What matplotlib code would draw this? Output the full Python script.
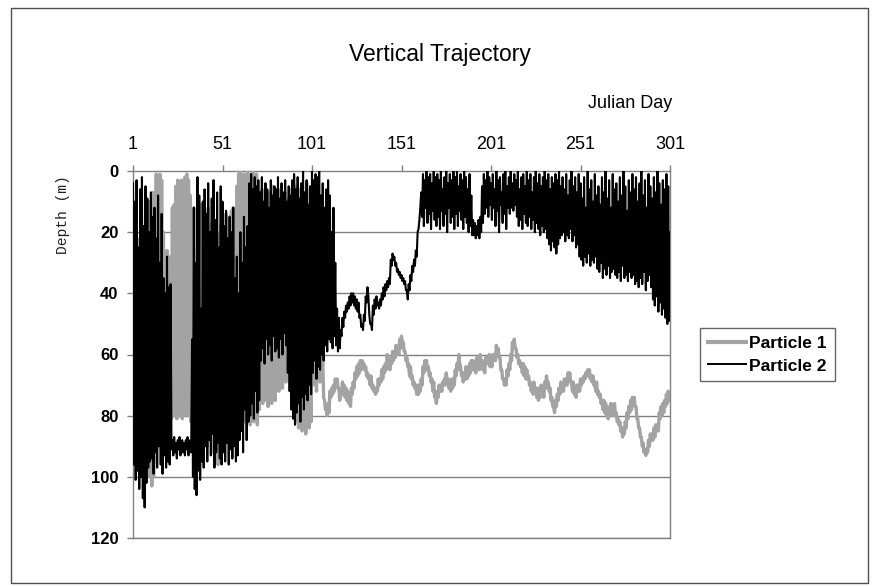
import numpy as np
import matplotlib
matplotlib.use("Agg")
import matplotlib.pyplot as plt
from matplotlib.patches import Rectangle
from matplotlib.lines import Line2D

plt.rcParams["font.family"] = ["Liberation Sans", "DejaVu Sans"]

# Depth (m) of each particle, sampled every half day from day 1 to day 301
particle1_depth = (
    [35, 88, 25, 92, 40, 85, 30, 94, 22, 90, 45, 93, 28, 87, 18, 95, 15, 98, 10, 100]
    + [10, 103, 7, 100, 13, 95, 1, 90, 2, 88, 1, 85, 3, 86, 20, 84, 28, 82, 26, 81]
    + [29, 80, 28, 81, 12, 79, 11, 80, 5, 81, 3, 80, 4, 79, 3, 81, 5, 80, 2, 79]
    + [1, 80, 3, 78, 8, 82, 15, 84, 12, 79, 18, 83, 14, 80, 20, 85, 11, 78, 16, 82]
    + [14, 86, 20, 90, 12, 84, 25, 88, 17, 92, 22, 85, 26, 94, 24, 96, 21, 90, 18, 88]
    + [16, 85, 19, 88, 14, 82, 18, 86, 15, 84, 13, 87, 12, 83, 14, 85, 5, 80, 1, 82]
    + [0, 80, 2, 78, 1, 82, 3, 79, 0, 81, 2, 83, 1, 80, 0, 82, 3, 79, 1, 83]
    + [8, 78, 12, 74, 6, 76, 10, 73, 9, 75, 14, 77, 7, 74, 11, 76, 5, 72, 9, 75]
    + [10, 70, 6, 72, 12, 68, 8, 71, 11, 65, 7, 69, 13, 63, 9, 67, 6, 70, 10, 72]
    + [8, 78, 5, 82, 10, 84, 6, 80, 12, 85, 7, 83, 9, 86, 4, 81, 10, 84, 6, 82]
    + [7, 70, 9, 68, 8, 72, 10, 66, 12, 69, 61, 67, 62, 74, 75, 78, 77, 80, 76, 79]
    + [72, 74, 71, 73, 70, 72, 68, 70, 68, 71, 71, 75, 72, 73, 69, 73, 70, 74, 71, 75]
    + [72, 76, 75, 77, 71, 73, 69, 71, 66, 68, 64, 67, 63, 66, 62, 65, 62, 64, 63, 65]
    + [64, 67, 66, 68, 67, 70, 67, 71, 70, 72, 71, 73, 71, 72, 68, 70, 68, 69, 65, 68]
    + [64, 66, 63, 65, 60, 63, 62, 65, 61, 63, 59, 62, 59, 61, 57, 60, 58, 60, 55, 58]
    + [54, 57, 56, 59, 59, 62, 61, 64, 63, 67, 64, 68, 67, 70, 69, 71, 70, 73, 70, 73]
    + [70, 72, 68, 70, 64, 66, 62, 65, 62, 65, 64, 67, 66, 69, 68, 72, 69, 74, 74, 76]
    + [72, 74, 70, 72, 70, 72, 69, 70, 68, 70, 66, 69, 68, 71, 70, 72, 68, 71, 68, 70]
    + [65, 67, 63, 65, 60, 63, 64, 67, 66, 69, 66, 68, 64, 68, 65, 67, 63, 66, 62, 65]
    + [62, 65, 64, 66, 61, 64, 63, 65, 60, 63, 62, 65, 64, 66, 61, 63, 61, 63, 60, 64]
    + [62, 64, 60, 62, 60, 62, 57, 59, 58, 61, 61, 65, 65, 68, 68, 70, 68, 70, 65, 67]
    + [63, 65, 60, 62, 56, 58, 55, 58, 58, 61, 60, 63, 62, 64, 63, 66, 63, 67, 64, 68]
    + [65, 68, 67, 70, 69, 72, 71, 73, 69, 72, 71, 74, 71, 75, 72, 74, 70, 73, 72, 74]
    + [69, 71, 67, 70, 69, 72, 71, 75, 74, 77, 77, 79, 75, 77, 73, 75, 71, 73, 69, 72]
    + [70, 72, 68, 70, 68, 70, 66, 68, 66, 69, 69, 72, 69, 73, 72, 74, 70, 72, 70, 72]
    + [68, 70, 68, 69, 67, 68, 66, 67, 65, 67, 65, 68, 67, 69, 67, 70, 69, 72, 69, 73]
    + [72, 74, 73, 76, 75, 78, 75, 79, 76, 80, 77, 81, 78, 80, 76, 79, 78, 80, 76, 80]
    + [79, 82, 81, 83, 82, 85, 84, 87, 84, 86, 82, 84, 79, 81, 77, 79, 75, 78, 74, 76]
    + [74, 77, 77, 81, 81, 84, 84, 87, 87, 90, 89, 92, 91, 93, 91, 92, 88, 90, 86, 88]
    + [86, 88, 84, 87, 83, 85, 83, 85, 79, 81, 77, 80, 76, 79, 75, 77, 73, 76, 72, 75]
    + [73]
)

particle2_depth = (
    [4, 96, 10, 101, 3, 98, 25, 104, 6, 100, 2, 107, 18, 110, 5, 102, 9, 97, 20, 95]
    + [7, 94, 15, 99, 12, 92, 22, 97, 8, 90, 30, 96, 14, 99, 35, 93, 40, 97, 28, 95]
    + [38, 96, 37, 91, 88, 93, 87, 92, 89, 94, 88, 91, 87, 93, 90, 88, 92, 89, 93, 88]
    + [91, 87, 93, 89, 88, 92, 55, 100, 12, 104, 30, 106, 2, 98, 8, 101, 45, 95, 10, 97]
    + [6, 90, 14, 95, 4, 88, 20, 93, 9, 86, 3, 97, 16, 92, 7, 89, 25, 94, 5, 96]
    + [10, 92, 18, 95, 13, 89, 22, 96, 15, 91, 20, 94, 12, 90, 35, 95, 28, 93, 40, 88]
    + [20, 85, 30, 92, 15, 78, 25, 88, 18, 82, 4, 80, 1, 76, 6, 81, 2, 72, 5, 79]
    + [3, 75, 7, 62, 2, 58, 10, 63, 4, 55, 6, 60, 12, 57, 3, 62, 8, 54, 5, 59]
    + [6, 58, 2, 61, 9, 55, 4, 60, 7, 53, 3, 57, 10, 66, 5, 72, 8, 78, 3, 81]
    + [1, 83, 6, 79, 2, 76, 9, 82, 4, 74, 0, 78, 7, 73, 3, 75, 11, 70, 5, 73]
    + [0, 66, 3, 62, 1, 68, 2, 64, 0, 65, 8, 60, 4, 62, 12, 57, 6, 59, 3, 55]
    + [8, 56, 20, 58, 12, 54, 30, 57, 45, 59, 48, 58, 52, 54, 48, 51, 46, 48, 44, 46]
    + [43, 45, 41, 44, 40, 43, 40, 44, 41, 45, 42, 46, 43, 48, 47, 51, 50, 52, 47, 49]
    + [41, 43, 38, 41, 47, 50, 50, 52, 44, 47, 42, 45, 41, 44, 43, 45, 42, 44, 40, 42]
    + [38, 41, 37, 39, 36, 38, 35, 37, 29, 31, 27, 29, 28, 31, 30, 33, 32, 34, 33, 35]
    + [34, 36, 35, 37, 36, 39, 39, 42, 37, 39, 34, 36, 31, 33, 29, 31, 26, 28, 20, 19]
    + [16, 12, 7, 15, 1, 18, 3, 12, 0, 17, 2, 14, 1, 19, 4, 13, 0, 16, 2, 18]
    + [1, 15, 3, 19, 0, 13, 6, 18, 2, 14, 0, 20, 4, 12, 1, 17, 3, 15, 0, 19]
    + [2, 14, 0, 18, 5, 13, 1, 16, 3, 19, 0, 15, 2, 17, 6, 20, 1, 18, 8, 21]
    + [16, 21, 17, 22, 18, 21, 16, 22, 15, 20, 5, 17, 1, 14, 3, 12, 0, 15, 2, 11]
    + [4, 16, 1, 12, 6, 18, 0, 13, 3, 20, 2, 11, 7, 17, 1, 14, 0, 19, 5, 12]
    + [2, 14, 0, 12, 4, 13, 1, 11, 3, 15, 0, 18, 6, 16, 2, 19, 1, 14, 5, 17]
    + [0, 18, 3, 15, 1, 19, 7, 16, 2, 20, 0, 17, 4, 19, 1, 21, 5, 18, 2, 20]
    + [0, 19, 3, 22, 1, 24, 6, 26, 2, 23, 4, 25, 1, 27, 3, 24, 0, 22, 5, 21]
    + [2, 20, 6, 23, 1, 21, 8, 22, 3, 19, 0, 23, 5, 21, 2, 25, 7, 24, 1, 28]
    + [4, 29, 9, 31, 2, 28, 12, 30, 0, 27, 6, 31, 3, 29, 10, 30, 1, 28, 8, 32]
    + [5, 33, 11, 30, 2, 35, 7, 32, 0, 34, 9, 31, 3, 35, 12, 33, 1, 32, 6, 34]
    + [4, 35, 10, 33, 2, 36, 8, 31, 0, 35, 5, 34, 13, 36, 3, 33, 7, 35, 1, 34]
    + [6, 37, 2, 36, 10, 38, 4, 35, 0, 37, 8, 33, 3, 39, 12, 36, 1, 34, 5, 38]
    + [9, 42, 2, 44, 7, 41, 0, 46, 4, 43, 11, 47, 3, 45, 6, 48, 1, 50, 5, 49]
    + [20]
)

series_labels = ["Particle 1", "Particle 2"]
series_colors = ["#a3a3a3", "#000000"]
day_ticks = [1, 51, 101, 151, 201, 251, 301]
depth_ticks = [0, 20, 40, 60, 80, 100, 120]

days = np.linspace(1, 301, len(particle1_depth))

W, H = 879, 586
fig = plt.figure(figsize=(W / 100, H / 100), dpi=100)
fig.patch.set_facecolor("white")

# outer chart frame
fig.add_artist(Rectangle((11 / W, 3 / H), (868 - 11) / W, (578 - 3) / H,
                         transform=fig.transFigure, fill=False,
                         edgecolor="#505050", lw=1.0))

left, right, top, bottom = 133, 670, 171, 538
ax = fig.add_axes([left / W, 1 - bottom / H, (right - left) / W, (bottom - top) / H])

ax.plot(days, particle1_depth, color=series_colors[0], lw=2.4, zorder=3)
ax.plot(days, particle2_depth, color=series_colors[1], lw=1.5, zorder=4)

ax.set_xlim(1, 301)
ax.set_ylim(120, 0)
ax.set_xticks(day_ticks)
ax.set_yticks(depth_ticks)
ax.xaxis.tick_top()
ax.tick_params(axis="x", direction="out", length=4, width=1, color="#808080",
               labelsize=13, pad=9)
ax.tick_params(axis="y", direction="out", length=4.5, width=1, color="#808080",
               labelsize=12, pad=6)
for lab in ax.get_yticklabels():
    lab.set_fontweight("bold")

for d in depth_ticks[1:]:
    ax.axhline(d, color="#808080", lw=1.0, zorder=1)
for s in ax.spines.values():
    s.set_color("#808080")
    s.set_linewidth(1.0)

fig.text(440 / W, 1 - 55 / H, "Vertical Trajectory", ha="center", va="center",
         fontsize=16.5)
fig.text(672 / W, 1 - 103 / H, "Julian Day", ha="right", va="center",
         fontsize=13)
fig.text(63 / W, 1 - 215 / H, "Depth (m)", rotation=90, ha="center",
         va="center", fontsize=10.5, family=["Liberation Mono", "DejaVu Sans Mono"],
         color="#222222")

handles = [Line2D([], [], color=series_colors[0], lw=3.0),
           Line2D([], [], color=series_colors[1], lw=1.4)]
leg = fig.legend(handles, series_labels, loc="center left",
                 bbox_to_anchor=(700 / W, 1 - 354.5 / H),
                 frameon=True, fancybox=False, edgecolor="#404040",
                 prop={"size": 12.5, "weight": "bold"},
                 handlelength=2.2, handletextpad=0.2, borderpad=0.45,
                 labelspacing=0.45, borderaxespad=0)
leg.get_frame().set_linewidth(1.0)

fig.savefig("out.png", dpi=100)
